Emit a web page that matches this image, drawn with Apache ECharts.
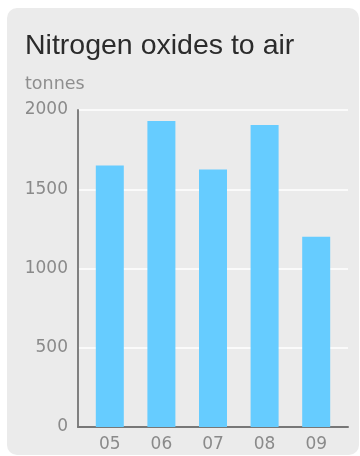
<!DOCTYPE html>
<html>
<head>
<meta charset="utf-8">
<script src="https://cdn.jsdelivr.net/npm/echarts@6/dist/echarts.min.js"></script>
<style>
html,body{margin:0;padding:0;background:#ffffff;}
#panel{position:absolute;left:7px;top:8px;width:352px;height:447px;background:#ebebeb;border-radius:10px;}
#chart{position:absolute;left:0;top:0;width:360px;height:456px;}
</style>
</head>
<body>
<div id="panel"></div>
<div id="chart"></div>
<script>
const titleText = "Nitrogen oxides to air";
const unitText = "tonnes";
const categories = ["05", "06", "07", "08", "09"];
const values = [1650, 1930, 1625, 1905, 1200];
const yMin = 0;
const yMax = 2000;
const yInterval = 500;

const chart = echarts.init(document.getElementById('chart'), null, {renderer: 'canvas'});
const labelFont = '"DejaVu Sans"';
chart.setOption({
  backgroundColor: 'transparent',
  animation: false,
  title: [
    {text: titleText, left: 25, top: 32, padding: 0, textStyle: {fontFamily: '"Liberation Sans"', fontSize: 28.5, fontWeight: 'normal', color: '#2b2b2b'}},
    {text: unitText, left: 25, top: 75, padding: 0, textStyle: {fontFamily: labelFont, fontSize: 17.5, fontWeight: 'normal', color: '#8e8e8e'}}
  ],
  grid: [
    {left: 84, right: 18, top: 110, bottom: 29},
    {left: 78, right: 12, top: 110, bottom: 29}
  ],
  xAxis: [
    {type: 'category', gridIndex: 0, data: categories,
     axisLine: {show: false}, axisTick: {show: false},
     axisLabel: {fontFamily: labelFont, fontSize: 17, color: '#8a8a8a', margin: 9}},
    {type: 'value', gridIndex: 1, min: 0, max: 1,
     axisLine: {show: true, lineStyle: {color: '#777777', width: 2}},
     axisTick: {show: false}, axisLabel: {show: false}, splitLine: {show: false}}
  ],
  yAxis: [
    {type: 'value', gridIndex: 0, min: yMin, max: yMax, interval: yInterval, show: false},
    {type: 'value', gridIndex: 1, min: yMin, max: yMax, interval: yInterval,
     axisLine: {show: true, lineStyle: {color: '#808080', width: 2}},
     axisTick: {show: false},
     axisLabel: {fontFamily: labelFont, fontSize: 17, color: '#8a8a8a', margin: 10,
                 formatter: function (v) { return String(v); }},
     splitLine: {show: true, lineStyle: {color: '#ffffff', width: 1.5}}}
  ],
  series: [
    {type: 'bar', xAxisIndex: 0, yAxisIndex: 0, data: values, barWidth: 28,
     itemStyle: {color: '#66ccff'}, z: 3}
  ]
});
</script>
</body>
</html>
